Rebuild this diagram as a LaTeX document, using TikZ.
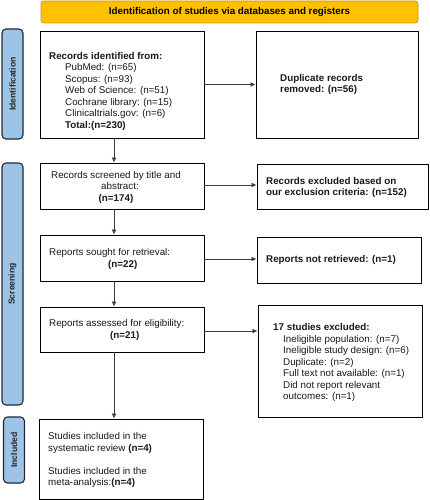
\documentclass[tikz,border=0pt]{standalone}
\usepackage{fontspec}
\setmainfont{Liberation Sans}
\usetikzlibrary{arrows.meta}
\definecolor{hdrfill}{HTML}{FFC000}
\definecolor{hdrdraw}{HTML}{C99A06}
\definecolor{lblfill}{HTML}{9DC3E6}
\definecolor{lbldraw}{HTML}{1F2937}
\definecolor{arrcol}{HTML}{3A3A3A}
\tikzset{
  box/.style={draw=black, line width=0.8pt, fill=white, inner sep=0pt, minimum width=#1},
  txt/.style={inner sep=0pt, font=\fontsize{9.8}{11.5}\selectfont, text=black!90},
  sidelbl/.style={draw=lbldraw, fill=lblfill, line width=1.1pt, rounded corners=4pt},
  sidetxt/.style={inner sep=0pt, rotate=90, font=\fontsize{8.6}{10}\selectfont\bfseries, text=black!85},
  arr/.style={draw=arrcol, line width=0.7pt, -{Latex[length=5pt,width=4.5pt]}},
}
\begin{document}
\begin{tikzpicture}[x=1pt,y=-1pt]
\useasboundingbox (0,0) rectangle (429,500);
% header
\node[draw=hdrdraw, fill=hdrfill, line width=0.8pt, rounded corners=3pt, minimum width=377pt, minimum height=22pt, inner sep=0pt,
      font=\fontsize{9.8}{11.5}\selectfont\bfseries] (hdr) at (229.5,12) {Identification of studies via databases and registers};
% side labels
\node[sidelbl, minimum width=21pt, minimum height=110pt] (lid) at (12.5,84) {};
\node[sidetxt] (tid) at (lid.center) {Identification};
\node[sidelbl, minimum width=21pt, minimum height=242pt] (lsc) at (12.5,284) {};
\node[sidetxt] (tsc) at (lsc.center) {Screening};
\node[sidelbl, minimum width=21pt, minimum height=66pt] (lin) at (14,450) {};
\node[sidetxt] (tin) at (lin.center) {Included};
% boxes
\node[box=164pt, minimum height=107pt] (b1) at (122,84.5) {};
\node[box=162pt, minimum height=107pt] (dup) at (337,84.5) {};
\node[box=164pt, minimum height=46pt] (b2) at (122,186) {};
\node[box=171pt, minimum height=45pt] (ex) at (342.5,186.5) {};
\node[box=164pt, minimum height=46pt] (b3) at (122,258) {};
\node[box=164pt, minimum height=46pt] (nr) at (339,260) {};
\node[box=164pt, minimum height=45pt] (b4) at (122,329.5) {};
\node[box=164pt, minimum height=112pt] (s17) at (340,361) {};
\node[box=164pt, minimum height=80pt] (b5) at (121,459) {};
% texts
\node[txt, anchor=west, align=left] (t1) at (49,91) {\textbf{Records identified from:}\\
\hspace*{16pt}PubMed: (n=65)\\
\hspace*{16pt}Scopus: (n=93)\\
\hspace*{16pt}Web of Science: (n=51)\\
\hspace*{16pt}Cochrane library: (n=15)\\
\hspace*{16pt}Clinicaltrials.gov: (n=6)\\
\hspace*{16pt}\textbf{Total:(n=230)}};
\node[txt, anchor=west, align=left, font=\fontsize{9.8}{11.5}\selectfont\bfseries] (tdup) at (280,84.5) {Duplicate records\\removed: (n=56)};
\node[txt, align=center] (t2) at (116,187) {Records screened by title and\\\hspace*{8pt}abstract:\\\textbf{(n=174)}};
\node[txt, anchor=west, align=left, font=\fontsize{9.8}{11.5}\selectfont\bfseries] (tex) at (266,187.5) {Records excluded based on\\our exclusion criteria: (n=152)};
\node[txt, anchor=west, align=left] (t3) at (49,259) {Reports sought for retrieval:\\\hspace*{59pt}\textbf{(n=22)}};
\node[txt, anchor=west, font=\fontsize{9.8}{11.5}\selectfont\bfseries] (tnr) at (266,260) {Reports not retrieved: (n=1)};
\node[txt, anchor=west, align=left] (t4) at (49,330) {Reports assessed for eligibility:\\\hspace*{61pt}\textbf{(n=21)}};
\node[txt, anchor=west, align=left] (t17) at (273,362.5) {\textbf{17 studies excluded:}\\
\hspace*{10pt}Ineligible population: (n=7)\\
\hspace*{10pt}Ineligible study design: (n=6)\\
\hspace*{10pt}Duplicate: (n=2)\\
\hspace*{10pt}Full text not available: (n=1)\\
\hspace*{10pt}Did not report relevant\\
\hspace*{10pt}outcomes: (n=1)};
\node[txt, anchor=west, align=left] (t5) at (48,460) {Studies included in the\\systematic review \textbf{(n=4)}\\[11.5pt]Studies included in the\\meta-analysis:\textbf{(n=4)}};
% arrows
\coordinate (ax) at (114,0);
\draw[arr] (b1.south -| ax) -- (b2.north -| ax);
\draw[arr] (b2.south -| ax) -- (b3.north -| ax);
\draw[arr] (b3.south -| ax) -- (b4.north -| ax);
\draw[arr] (b4.south -| ax) -- (b5.north -| ax);
\draw[arr] (b1.east) -- (b1.east -| dup.west);
\coordinate (y2) at (0,185);
\draw[arr] (b2.east |- y2) -- (ex.west |- y2);
\coordinate (y3) at (0,259);
\draw[arr] (b3.east |- y3) -- (nr.west |- y3);
\coordinate (y4) at (0,331);
\draw[arr] (b4.east |- y4) -- (s17.west |- y4);
\end{tikzpicture}
\end{document}
